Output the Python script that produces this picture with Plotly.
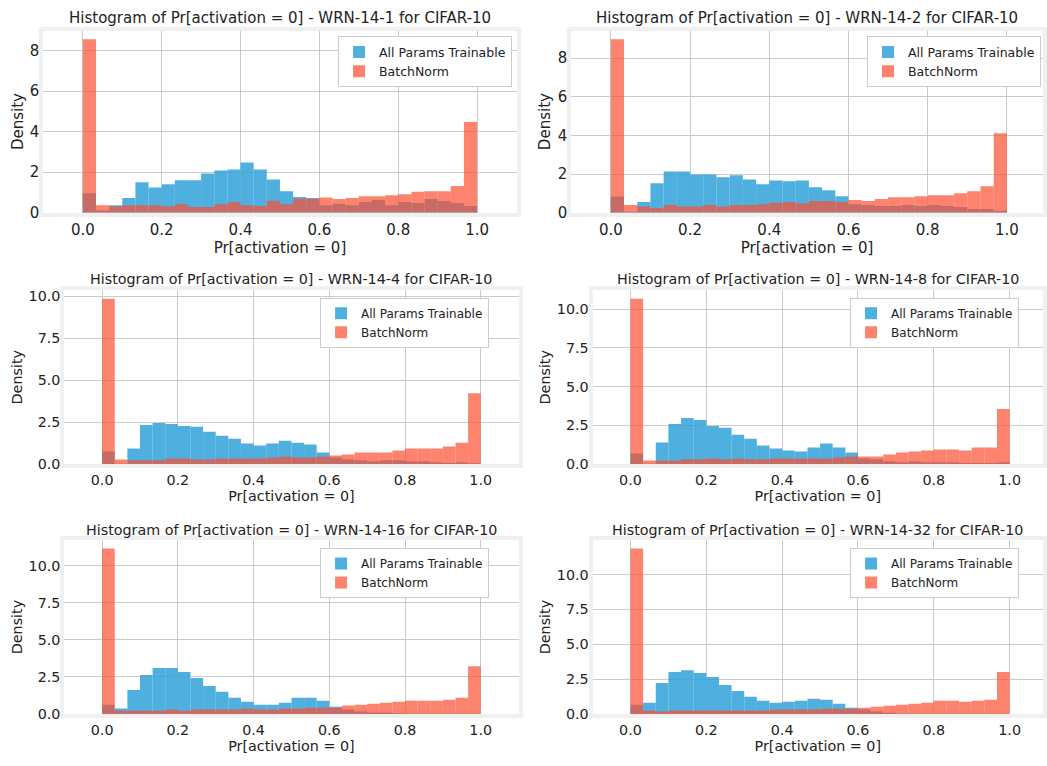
import numpy as np
import plotly.graph_objects as go

# ---------------- data (density per bin, 30 bins on [0, 1]) ----------------
n_bins = 30
bin_edges = np.linspace(0.0, 1.0, n_bins + 1)

titles = [
    "Histogram of Pr[activation = 0] - WRN-14-1 for CIFAR-10",
    "Histogram of Pr[activation = 0] - WRN-14-2 for CIFAR-10",
    "Histogram of Pr[activation = 0] - WRN-14-4 for CIFAR-10",
    "Histogram of Pr[activation = 0] - WRN-14-8 for CIFAR-10",
    "Histogram of Pr[activation = 0] - WRN-14-16 for CIFAR-10",
    "Histogram of Pr[activation = 0] - WRN-14-32 for CIFAR-10",
]
series_names = ["All Params Trainable", "BatchNorm"]
x_label = "Pr[activation = 0]"
y_label = "Density"

blue_1 = [0.96, 0.10, 0.37, 0.72, 1.50, 1.24, 1.40, 1.60, 1.60, 1.94,
          2.08, 2.13, 2.48, 2.13, 1.64, 1.06, 0.77, 0.72, 0.37, 0.44,
          0.37, 0.52, 0.62, 0.37, 0.52, 0.47, 0.67, 0.57, 0.47, 0.33]
red_1 = [8.57, 0.37, 0.32, 0.37, 0.37, 0.37, 0.31, 0.42, 0.28, 0.28,
         0.42, 0.52, 0.37, 0.33, 0.59, 0.42, 0.68, 0.68, 0.75, 0.67,
         0.72, 0.81, 0.81, 0.86, 0.91, 1.03, 1.06, 1.06, 1.32, 4.48]

blue_2 = [0.84, 0.05, 0.55, 1.52, 2.13, 2.13, 1.98, 1.98, 1.83, 1.93,
          1.72, 1.47, 1.67, 1.62, 1.67, 1.31, 1.16, 0.85, 0.44, 0.39,
          0.34, 0.34, 0.39, 0.34, 0.39, 0.34, 0.29, 0.19, 0.19, 0.10]
red_2 = [8.98, 0.39, 0.32, 0.24, 0.39, 0.32, 0.32, 0.39, 0.32, 0.39,
         0.39, 0.44, 0.51, 0.55, 0.49, 0.60, 0.60, 0.55, 0.65, 0.60,
         0.70, 0.80, 0.80, 0.85, 0.90, 0.90, 1.01, 1.11, 1.37, 4.11]

blue_4 = [0.75, 0.02, 0.92, 2.33, 2.45, 2.39, 2.27, 2.22, 1.92, 1.69,
          1.51, 1.22, 1.10, 1.22, 1.39, 1.27, 1.16, 0.69, 0.39, 0.27,
          0.22, 0.16, 0.22, 0.22, 0.16, 0.16, 0.10, 0.06, 0.10, 0.04]
red_4 = [9.86, 0.27, 0.22, 0.22, 0.22, 0.33, 0.33, 0.27, 0.27, 0.33,
         0.33, 0.33, 0.33, 0.39, 0.45, 0.39, 0.39, 0.45, 0.51, 0.57,
         0.69, 0.69, 0.69, 0.80, 0.92, 0.92, 0.92, 1.04, 1.27, 4.22]

blue_8 = [0.68, 0.02, 1.38, 2.59, 2.97, 2.85, 2.46, 2.34, 1.89, 1.63,
          1.19, 1.00, 0.87, 0.81, 1.06, 1.32, 1.06, 0.74, 0.36, 0.30,
          0.17, 0.11, 0.17, 0.11, 0.11, 0.11, 0.06, 0.06, 0.06, 0.11]
red_8 = [10.68, 0.23, 0.23, 0.23, 0.30, 0.30, 0.36, 0.30, 0.36, 0.30,
         0.30, 0.36, 0.36, 0.36, 0.36, 0.36, 0.42, 0.49, 0.49, 0.49,
         0.62, 0.74, 0.81, 0.87, 0.93, 0.93, 0.87, 1.06, 1.06, 3.55]

blue_16 = [0.62, 0.36, 1.62, 2.62, 3.09, 3.09, 2.82, 2.42, 1.89, 1.49,
           1.09, 0.82, 0.62, 0.62, 0.76, 1.09, 1.09, 0.89, 0.49, 0.29,
           0.16, 0.09, 0.09, 0.04, 0.02, 0.02, 0.02, 0.02, 0.02, 0.02]
red_16 = [11.15, 0.22, 0.22, 0.22, 0.22, 0.29, 0.22, 0.29, 0.29, 0.29,
          0.29, 0.36, 0.29, 0.29, 0.36, 0.36, 0.42, 0.42, 0.42, 0.56,
          0.62, 0.69, 0.76, 0.82, 0.89, 0.89, 0.89, 0.96, 1.09, 3.22]

blue_32 = [0.66, 0.80, 2.22, 3.00, 3.14, 2.93, 2.65, 2.08, 1.65, 1.23,
           0.95, 0.80, 0.87, 0.95, 1.09, 1.02, 0.73, 0.45, 0.31, 0.17,
           0.09, 0.02, 0.02, 0.02, 0.02, 0.02, 0.02, 0.02, 0.02, 0.02]
red_32 = [11.87, 0.24, 0.17, 0.24, 0.24, 0.24, 0.24, 0.24, 0.24, 0.24,
          0.24, 0.31, 0.31, 0.31, 0.31, 0.38, 0.38, 0.38, 0.45, 0.52,
          0.59, 0.66, 0.73, 0.80, 0.95, 0.95, 0.87, 0.95, 1.02, 3.00]

blue_series = [blue_1, blue_2, blue_4, blue_8, blue_16, blue_32]
red_series = [red_1, red_2, red_4, red_8, red_16, red_32]

x_tick_vals = [0.0, 0.2, 0.4, 0.6, 0.8, 1.0]
y_tick_sets = [[0, 2, 4, 6, 8], [0, 2, 4, 6, 8],
               [0, 2.5, 5, 7.5, 10], [0, 2.5, 5, 7.5, 10],
               [0, 2.5, 5, 7.5, 10], [0, 2.5, 5, 7.5, 10]]
y_tick_formats = [".0f", ".0f", ".1f", ".1f", ".1f", ".1f"]

# ---------------- layout geometry (pixels in a 1047 x 766 page) ----------------
W, H = 1047, 766
x_dom_px = [(43.5, 517.5), (572.3, 1045), (64.4, 519.6), (593.7, 1045),
            (64.4, 519.6), (593.7, 1045)]
x_ranges = [(-0.1, 1.1), (-0.1, 1.091), (-0.1, 1.1), (-0.1, 1.088),
            (-0.1, 1.1), (-0.1, 1.088)]
y_dom_px = [(29, 213.7), (29, 213.7), (292.7, 468.7), (292.7, 468.7),
            (546, 722.3), (546, 722.3)]
title_y_px = [16, 16, 281, 281, 536, 536]
legend_px = [(513, 35), (1043, 35), (490, 300), (1021, 300), (490, 554), (1021, 554)]
text_sizes = [15, 15, 14.3, 14.3, 14.3, 14.3]
legend_sizes = [12.5, 12.5, 12, 12, 12, 12]

BLUE = "rgba(48,162,218,0.85)"
RED = "rgba(252,79,48,0.70)"
FONT = "DejaVu Sans"
TXT = "#222222"

bin_width = bin_edges[1] - bin_edges[0]
centers = bin_edges[:-1] + bin_width / 2

fig = go.Figure()
layout = dict(
    width=W, height=H,
    margin=dict(l=0, r=0, t=0, b=0),
    paper_bgcolor="white", plot_bgcolor="white",
    barmode="overlay",
    font=dict(family=FONT, color=TXT, size=15),
    annotations=[],
)

for i in range(6):
    sfx = "" if i == 0 else str(i + 1)
    leg = "legend" if i == 0 else f"legend{i + 1}"
    for vals, name, col in ((blue_series[i], series_names[0], BLUE),
                            (red_series[i], series_names[1], RED)):
        fig.add_trace(go.Bar(
            x=centers, y=vals, width=bin_width, name=name,
            marker=dict(color=col, line=dict(width=0)),
            xaxis="x" + sfx, yaxis="y" + sfx, legend=leg,
        ))
    ymax = 1.05 * max(max(blue_series[i]), max(red_series[i]))
    x0, x1 = x_dom_px[i]
    yt, yb = y_dom_px[i]
    fs = text_sizes[i]
    axis_common = dict(
        showgrid=True, gridcolor="#cbcbcb", gridwidth=1,
        zeroline=False, showline=True, linecolor="#f0f0f0", linewidth=4,
        mirror=True, ticks="", tickfont=dict(size=fs, family=FONT, color=TXT),
    )
    layout["xaxis" + sfx] = dict(
        axis_common, domain=[x0 / W, x1 / W], range=list(x_ranges[i]),
        anchor="y" + sfx, tickvals=x_tick_vals, tickformat=".1f",
        title=dict(text=x_label, font=dict(size=fs, family=FONT, color=TXT), standoff=0),
    )
    layout["yaxis" + sfx] = dict(
        axis_common, domain=[1 - yb / H, 1 - yt / H], range=[0, ymax],
        anchor="x" + sfx, tickvals=y_tick_sets[i], tickformat=y_tick_formats[i],
        ticklabelstandoff=-3,
        title=dict(text=y_label, font=dict(size=fs, family=FONT, color=TXT), standoff=4),
    )
    lx, ly = legend_px[i]
    layout[leg] = dict(
        x=lx / W, y=1 - ly / H, xanchor="right", yanchor="top",
        xref="paper", yref="paper",
        bgcolor="white", bordercolor="#cccccc", borderwidth=1,
        font=dict(size=legend_sizes[i], family=FONT, color=TXT),
        tracegroupgap=0, itemsizing="constant",
    )
    layout["annotations"].append(dict(
        text=titles[i], xref="paper", yref="paper",
        x=(x0 + x1) / 2 / W, y=1 - title_y_px[i] / H,
        xanchor="center", yanchor="middle", showarrow=False,
        font=dict(size=fs, family=FONT, color=TXT),
    ))

fig.update_layout(**layout)
fig.write_html(
    "out.html",
    config={"displayModeBar": False},
    post_script="document.body.style.margin='0px';document.body.style.overflow='hidden';",
)
